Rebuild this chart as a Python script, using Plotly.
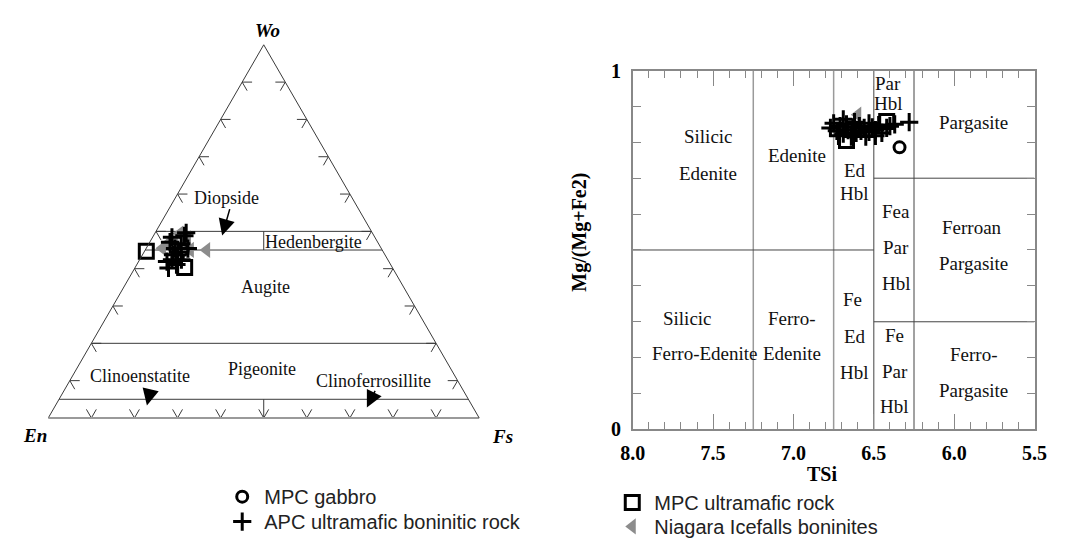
import plotly.graph_objects as go

W, H = 1070, 547
SERIF = "Liberation Serif"
SANS = "Liberation Sans"
LINE = "#3a3a3a"

# ---------------- Ternary data (Wo, En, Fs in %) ----------------
gab_wo = [42.9, 45.0]
gab_en = [48.5, 46.3]
gab_fs = [8.6, 8.7]

apc_wo = [48.4, 48.8, 46.7, 45.4, 45.4, 41.9, 42.4, 40.2, 41.1, 42.4, 49.6, 47.1, 44.4, 43.7]
apc_en = [47.1, 44.0, 45.8, 47.9, 44.9, 51.5, 50.1, 52.0, 49.7, 47.9, 43.2, 48.2, 47.7, 49.2]
apc_fs = [4.5, 7.2, 7.5, 6.7, 9.7, 6.6, 7.5, 7.8, 9.2, 9.7, 7.2, 4.7, 7.9, 7.1]

mpcu_wo = [44.7, 40.3]
mpcu_en = [54.9, 48.2]
mpcu_fs = [0.4, 11.5]

nia_wo = [45.5, 46.8, 47.5, 46.3, 48.1, 45.0, 45.0, 49.4]
nia_en = [50.75, 48.8, 46.85, 45.9, 43.66, 44.5, 40.75, 44.8]
nia_fs = [3.75, 4.4, 5.65, 7.8, 8.24, 10.46, 14.25, 5.8]

# ternary field boundaries
wo_levels = [50, 45, 20, 5]
enfs_divider_wo = [(50, 45), (5, 0)]
tern_tick_vals = [10, 20, 30, 40, 50, 60, 70, 80, 90]

tern_labels = ["Diopside", "Hedenbergite", "Augite", "Pigeonite", "Clinoenstatite", "Clinoferrosillite"]

# ---------------- Amphibole data (TSi, Mg/(Mg+Fe2)) ----------------
gab_tsi = [6.34, 6.60]
gab_mg = [0.786, 0.835]

apc_tsi = [6.75, 6.73, 6.71, 6.69, 6.67, 6.66, 6.63, 6.61, 6.59, 6.58, 6.56, 6.53, 6.51, 6.49,
           6.47, 6.45, 6.42, 6.40, 6.37, 6.28, 6.72, 6.64, 6.55, 6.62, 6.53, 6.49, 6.77, 6.69]
apc_mg = [0.853, 0.832, 0.845, 0.824, 0.850, 0.834, 0.842, 0.826, 0.845, 0.832, 0.840, 0.829, 0.842, 0.834,
          0.848, 0.826, 0.840, 0.845, 0.850, 0.856, 0.818, 0.816, 0.816, 0.856, 0.853, 0.818, 0.840, 0.864]

mpcu_tsi = [6.42, 6.67]
mpcu_mg = [0.858, 0.805]

nia_tsi = [6.60, 6.70]
nia_mg = [0.877, 0.840]

# classification boundaries
tsi_div_light = [7.25, 6.75]
tsi_div_dark = [6.5, 6.25]
mg_div_left = [0.5]          # from TSi 8.0 to 6.5
mg_div_right = [0.7, 0.3]    # from TSi 6.5 to 5.5

amph_label_text = ["Silicic", "Edenite", "Edenite", "Par", "Hbl", "Pargasite", "Ed", "Hbl",
                   "Fea", "Par", "Hbl", "Ferroan", "Pargasite", "Silicic", "Ferro-Edenite",
                   "Ferro-", "Edenite", "Fe", "Ed", "Hbl", "Fe", "Par", "Hbl", "Ferro-", "Pargasite"]
amph_label_x = [7.53, 7.53, 6.98, 6.41, 6.41, 5.88, 6.62, 6.62,
                6.36, 6.36, 6.36, 5.89, 5.88, 7.66, 7.55,
                7.01, 7.01, 6.63, 6.62, 6.62, 6.37, 6.37, 6.37, 5.88, 5.88]
amph_label_y = [0.815, 0.712, 0.762, 0.965, 0.908, 0.856, 0.722, 0.658,
                0.607, 0.507, 0.407, 0.562, 0.462, 0.310, 0.213,
                0.310, 0.213, 0.362, 0.260, 0.160, 0.262, 0.162, 0.063, 0.208, 0.109]

fig = go.Figure()


def px(x):
    return x / W


def py(y):
    return 1 - y / H


# ---------- ternary boundary lines ----------
for wo in wo_levels:
    fig.add_trace(go.Scatterternary(a=[wo, wo], b=[100 - wo, 0], c=[0, 100 - wo], mode="lines",
                                    line=dict(color=LINE, width=1), showlegend=False,
                                    hoverinfo="skip", cliponaxis=False))
for w1, w2 in enfs_divider_wo:
    fig.add_trace(go.Scatterternary(a=[w1, w2], b=[(100 - w1) / 2, (100 - w2) / 2],
                                    c=[(100 - w1) / 2, (100 - w2) / 2], mode="lines",
                                    line=dict(color=LINE, width=1), showlegend=False,
                                    hoverinfo="skip", cliponaxis=False))

# ---------- ternary chevron ticks ----------
L = 2.3
ta, tb, tc = [], [], []
for k in tern_tick_vals:
    ta += [k, k, k - L, None]; tb += [100 - k - L, 100 - k, 100 - k, None]; tc += [L, 0, L, None]
    ta += [k, k, k - L, None]; tb += [L, 0, L, None]; tc += [100 - k - L, 100 - k, 100 - k, None]
    ta += [L, 0, L, None]; tb += [100 - k - L, 100 - k, 100 - k, None]; tc += [k, k, k - L, None]
fig.add_trace(go.Scatterternary(a=ta, b=tb, c=tc, mode="lines", line=dict(color=LINE, width=1),
                                showlegend=False, hoverinfo="skip", cliponaxis=False, connectgaps=False))

# ---------- markers ----------
tri_m = dict(symbol="triangle-left", size=14, color="#8c8c8c", line=dict(width=0))
circ_m = dict(symbol="circle-open", size=11, color="black", line=dict(width=3, color="black"))
cross_m = dict(symbol="cross-thin-open", size=13, color="black", line=dict(width=3, color="black"))
sq_m = dict(symbol="square-open", size=14, color="black", line=dict(width=3, color="black"))

fig.add_trace(go.Scatterternary(a=nia_wo, b=nia_en, c=nia_fs, mode="markers", marker=tri_m,
                                name="Niagara Icefalls boninites", legendgroup="nia", legend="legend4",
                                cliponaxis=False))
fig.add_trace(go.Scatterternary(a=gab_wo, b=gab_en, c=gab_fs, mode="markers", marker=circ_m,
                                name="MPC gabbro", legendgroup="gab", legend="legend", cliponaxis=False))
fig.add_trace(go.Scatterternary(a=apc_wo, b=apc_en, c=apc_fs, mode="markers", marker=cross_m,
                                name="APC ultramafic boninitic rock", legendgroup="apc", legend="legend2",
                                cliponaxis=False))
fig.add_trace(go.Scatterternary(a=mpcu_wo, b=mpcu_en, c=mpcu_fs, mode="markers", marker=sq_m,
                                name="MPC ultramafic rock", legendgroup="mpcu", legend="legend3",
                                cliponaxis=False))

# ---------- amphibole plot ----------
fig.add_trace(go.Scatter(x=nia_tsi, y=nia_mg, mode="markers", marker=tri_m, legendgroup="nia",
                         showlegend=False, xaxis="x", yaxis="y", cliponaxis=False))
fig.add_trace(go.Scatter(x=gab_tsi, y=gab_mg, mode="markers", marker=circ_m, legendgroup="gab",
                         showlegend=False, cliponaxis=False))
fig.add_trace(go.Scatter(x=apc_tsi, y=apc_mg, mode="markers", marker=cross_m, legendgroup="apc",
                         showlegend=False, cliponaxis=False))
fig.add_trace(go.Scatter(x=mpcu_tsi, y=mpcu_mg, mode="markers", marker=sq_m, legendgroup="mpcu",
                         showlegend=False, cliponaxis=False))

shapes = []
for xv in tsi_div_light:
    shapes.append(dict(type="line", xref="x", yref="y", x0=xv, x1=xv, y0=0, y1=1,
                       line=dict(color="#9a9a9a", width=1.5), layer="below"))
for xv in tsi_div_dark:
    shapes.append(dict(type="line", xref="x", yref="y", x0=xv, x1=xv, y0=0, y1=1,
                       line=dict(color="#444", width=1), layer="below"))
for yv in mg_div_left:
    shapes.append(dict(type="line", xref="x", yref="y", x0=8.0, x1=6.5, y0=yv, y1=yv,
                       line=dict(color="#444", width=1), layer="below"))
for yv in mg_div_right:
    shapes.append(dict(type="line", xref="x", yref="y", x0=6.5, x1=5.5, y0=yv, y1=yv,
                       line=dict(color="#444", width=1), layer="below"))

annotations = []
for t, xv, yv in zip(amph_label_text, amph_label_x, amph_label_y):
    annotations.append(dict(text=t, x=xv, y=yv, xref="x", yref="y", showarrow=False,
                            xanchor="center", yanchor="middle",
                            font=dict(family=SERIF, size=19, color="#111")))

tern_label_pos = [(219, 195), (308, 241), (259, 288), (256, 373), (131, 380), (370, 385)]
for t, (xx, yy) in zip(tern_labels, tern_label_pos):
    annotations.append(dict(text=t, x=px(xx), y=py(yy), xref="paper", yref="paper", showarrow=False,
                            xanchor="center", yanchor="middle",
                            font=dict(family=SERIF, size=18, color="#111")))

# arrows (tail -> head)
arrows = [((223, 206), (215, 234)), ((142, 394), (138, 411)), ((372, 395), (363, 413))]
for (tx, ty), (hx, hy) in arrows:
    annotations.append(dict(text="", x=px(hx), y=py(hy), xref="paper", yref="paper", showarrow=True,
                            ax=tx - hx, ay=ty - hy, arrowhead=2, arrowsize=2.2, arrowwidth=1.5,
                            arrowcolor="black"))

# vertex labels
for t, (xx, yy) in zip(["Wo", "En", "Fs"], [(261, 20), (24, 442), (502, 443)]):
    annotations.append(dict(text="<b><i>" + t + "</i></b>", x=px(xx), y=py(yy), xref="paper", yref="paper",
                            xanchor="center", yanchor="middle",
                            showarrow=False, font=dict(family=SERIF, size=19, color="black")))

annotations.append(dict(text="<b>TSi</b>", x=px(829), y=py(482), xref="paper", yref="paper",
                        xanchor="center", yanchor="middle",
                        showarrow=False, font=dict(family=SERIF, size=20, color="black")))
annotations.append(dict(text="<b>Mg/(Mg+Fe2)</b>", x=px(581), y=py(230), xref="paper", yref="paper",
                        xanchor="center", yanchor="middle",
                        textangle=-90, showarrow=False, font=dict(family=SERIF, size=20, color="black")))

y_ticks = [0, 0.1, 0.2, 0.3, 0.4, 0.5, 0.6, 0.7, 0.8, 0.9, 1.0]
y_ticktext = ["0", "", "", "", "", "", "", "", "", "", "1"]

leg_font = dict(family=SANS, size=20, color="#222")


def leg(x, y):
    return dict(x=px(x - 22), y=py(y), xanchor="left", yanchor="middle", font=leg_font,
                bgcolor="rgba(0,0,0,0)", itemwidth=34, borderwidth=0)


fig.update_layout(
    width=W, height=H, margin=dict(l=0, r=0, t=0, b=0),
    paper_bgcolor="white", plot_bgcolor="white",
    ternary=dict(
        domain=dict(x=[33 / W, 482 / W], y=[(H - 424) / H, (H - 424 + 388.8) / H]),
        sum=100, bgcolor="rgba(0,0,0,0)",
        aaxis=dict(showline=True, linecolor=LINE, linewidth=1, showgrid=False, ticks="",
                   showticklabels=False, title=dict(text="")),
        baxis=dict(showline=True, linecolor="#9a9a9a", linewidth=2, showgrid=False, ticks="",
                   showticklabels=False, title=dict(text="")),
        caxis=dict(showline=True, linecolor=LINE, linewidth=1, showgrid=False, ticks="",
                   showticklabels=False, title=dict(text="")),
    ),
    xaxis=dict(domain=[635 / W, 1046 / W], range=[8.0, 5.5], autorange=False, tick0=0, dtick=0.5,
               tickformat=".1f", ticks="inside", ticklen=16, tickcolor="#888", tickwidth=1,
               minor=dict(dtick=0.1, tick0=0, ticks="inside", ticklen=8, tickcolor="#888", tickwidth=1),
               showline=True, linecolor="#888", linewidth=1.5, mirror="ticks", showgrid=False,
               zeroline=False, ticklabelstandoff=5,
               tickfont=dict(family=SERIF, size=20, color="black", weight="bold"), anchor="y"),
    yaxis=dict(domain=[(H - 436) / H, (H - 62) / H], range=[0, 1], autorange=False,
               tickmode="array", tickvals=y_ticks, ticktext=y_ticktext,
               ticks="inside", ticklen=8, tickcolor="#888", tickwidth=1,
               showline=True, linecolor="#888", linewidth=1.5, mirror="ticks", showgrid=False,
               zeroline=False, ticklabelstandoff=6,
               tickfont=dict(family=SERIF, size=20, color="black", weight="bold"), anchor="x"),
    shapes=shapes, annotations=annotations,
    legend=leg(235, 506), legend2=leg(235, 532), legend3=leg(634, 512), legend4=leg(634, 537),
)

fig.write_html("out.html")
